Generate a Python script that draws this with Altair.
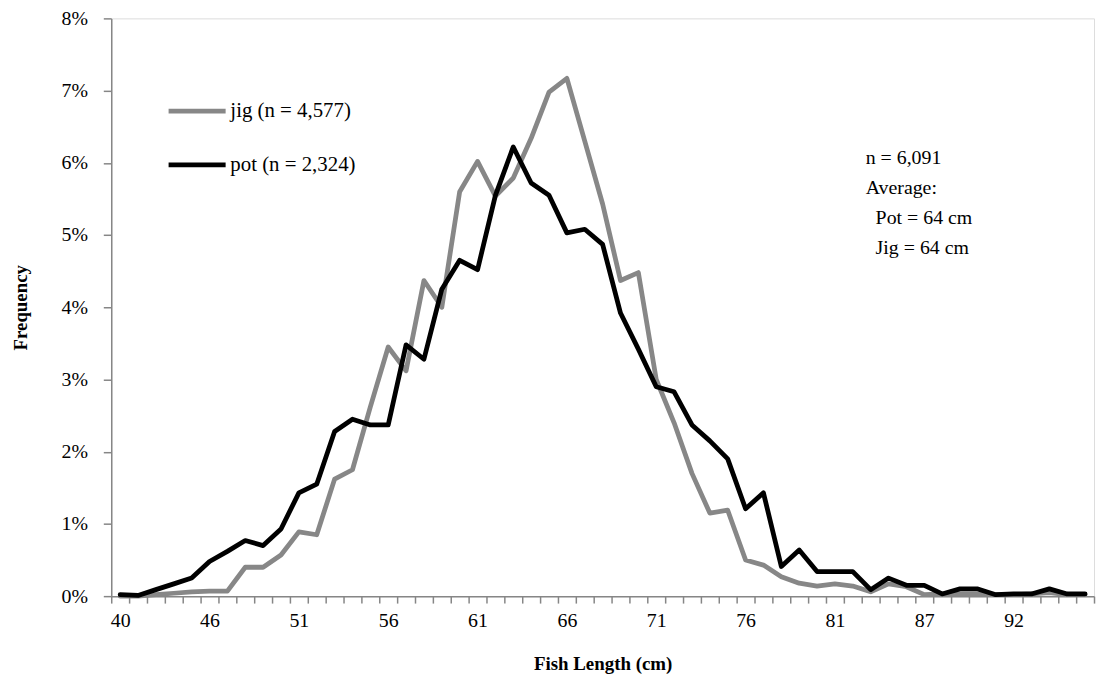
import altair as alt
import pandas as pd

# Fish length categories (cm) as on the category axis
lengths = [40, 42, 43, 44, 45, 46, 47, 48, 49, 50,
           51, 52, 53, 54, 55, 56, 57, 58, 59, 60,
           61, 62, 63, 64, 65, 66, 67, 68, 69, 70,
           71, 72, 73, 74, 75, 76, 77, 78, 79, 80,
           81, 82, 83, 84, 85, 87, 88, 89, 90, 91,
           92, 93, 94, 95, 96]
shown_labels = ["40", "46", "51", "56", "61", "66", "71", "76", "81", "87", "92"]

# Frequency in percent
jig = [0.00, 0.00, 0.02, 0.04, 0.06, 0.07, 0.07, 0.40, 0.40, 0.57,
       0.89, 0.85, 1.62, 1.75, 2.62, 3.45, 3.12, 4.37, 4.00, 5.60,
       6.02, 5.54, 5.79, 6.34, 6.98, 7.17, 6.30, 5.43, 4.37, 4.48,
       3.00, 2.40, 1.70, 1.15, 1.19, 0.50, 0.43, 0.27, 0.18, 0.14,
       0.17, 0.14, 0.06, 0.17, 0.13, 0.02, 0.03, 0.03, 0.03, 0.02,
       0.02, 0.03, 0.05, 0.02, 0.02]
pot = [0.02, 0.01, 0.09, 0.17, 0.25, 0.48, 0.62, 0.77, 0.70, 0.93,
       1.43, 1.55, 2.28, 2.45, 2.37, 2.37, 3.48, 3.28, 4.25, 4.65,
       4.52, 5.55, 6.22, 5.72, 5.55, 5.03, 5.08, 4.87, 3.92, 3.42,
       2.90, 2.83, 2.37, 2.15, 1.90, 1.21, 1.43, 0.41, 0.64, 0.34,
       0.34, 0.34, 0.09, 0.25, 0.15, 0.15, 0.03, 0.10, 0.10, 0.02,
       0.03, 0.03, 0.10, 0.03, 0.03]

series_names = ["jig (n = 4,577)", "pot (n = 2,324)"]
series_colors = ["#878787", "#000000"]
annotation_head = ["n = 6,091", "Average:"]
annotation_items = ["Pot = 64 cm", "Jig = 64 cm"]
y_ticks = [0, 0.01, 0.02, 0.03, 0.04, 0.05, 0.06, 0.07, 0.08]

len_str = [str(v) for v in lengths]
rows = []
for name, vals in zip(series_names, [jig, pot]):
    for l, v in zip(len_str, vals):
        rows.append({"length": l, "series": name, "freq": v / 100.0})
df = pd.DataFrame(rows)

FONT = "Liberation Serif"
GRAY = "#868686"

label_list = ",".join("'" + s + "'" for s in shown_labels)

lines = alt.Chart(df).mark_line(strokeWidth=4.8, strokeJoin="round", strokeCap="round").encode(
    x=alt.X("length:O", sort=len_str,
            scale=alt.Scale(type="band", domain=len_str, paddingInner=0, paddingOuter=0),
            axis=alt.Axis(title="Fish Length (cm)", labelAngle=0,
                          labelExpr="indexof([" + label_list + "], datum.label) >= 0 ? datum.label : ''",
                          tickBand="extent", tickSize=7, tickColor=GRAY, tickWidth=1.5,
                          domainColor=GRAY, domainWidth=1.5,
                          labelFont=FONT, labelFontSize=20, labelColor="black", labelPadding=8,
                          titleFont=FONT, titleFontSize=19, titleFontWeight="bold", titleColor="black",
                          titlePadding=24, grid=False)),
    y=alt.Y("freq:Q", scale=alt.Scale(domain=[0, 0.08], nice=False, zero=True),
            axis=alt.Axis(title="Frequency", format=".0%", values=y_ticks,
                          tickSize=8, tickColor=GRAY, tickWidth=1.5,
                          domainColor=GRAY, domainWidth=1.5,
                          labelFont=FONT, labelFontSize=20, labelColor="black", labelPadding=16,
                          titleFont=FONT, titleFontSize=19, titleFontWeight="bold", titleColor="black",
                          titlePadding=31, grid=False)),
    color=alt.Color("series:N",
                    scale=alt.Scale(domain=series_names, range=series_colors),
                    legend=alt.Legend(title=None, orient="none", legendX=55, legendY=62,
                                      symbolType="stroke", symbolSize=3300, symbolStrokeWidth=4.8,
                                      labelFont=FONT, labelFontSize=21, labelColor="black",
                                      labelOffset=2, rowPadding=12, labelLimit=400)),
    order=alt.Order("series:N"),
)

anno_head = alt.Chart(pd.DataFrame({"k": [0]})).mark_text(
    align="left", baseline="top", font=FONT, fontSize=20, lineHeight=30, color="black"
).encode(x=alt.value(760), y=alt.value(131), text=alt.value(annotation_head))

anno_items = alt.Chart(pd.DataFrame({"k": [0]})).mark_text(
    align="left", baseline="top", font=FONT, fontSize=20, lineHeight=30, color="black"
).encode(x=alt.value(770), y=alt.value(191), text=alt.value(annotation_items))

chart = alt.layer(lines, anno_head, anno_items).properties(
    width=990, height=582,
    autosize=alt.AutoSizeParams(type="none"),
    padding={"left": 104, "top": 8, "right": 2, "bottom": 80},
).configure_view(stroke=None).configure(background="white")

chart.save("out.html", embed_options={"renderer": "svg", "actions": False})
